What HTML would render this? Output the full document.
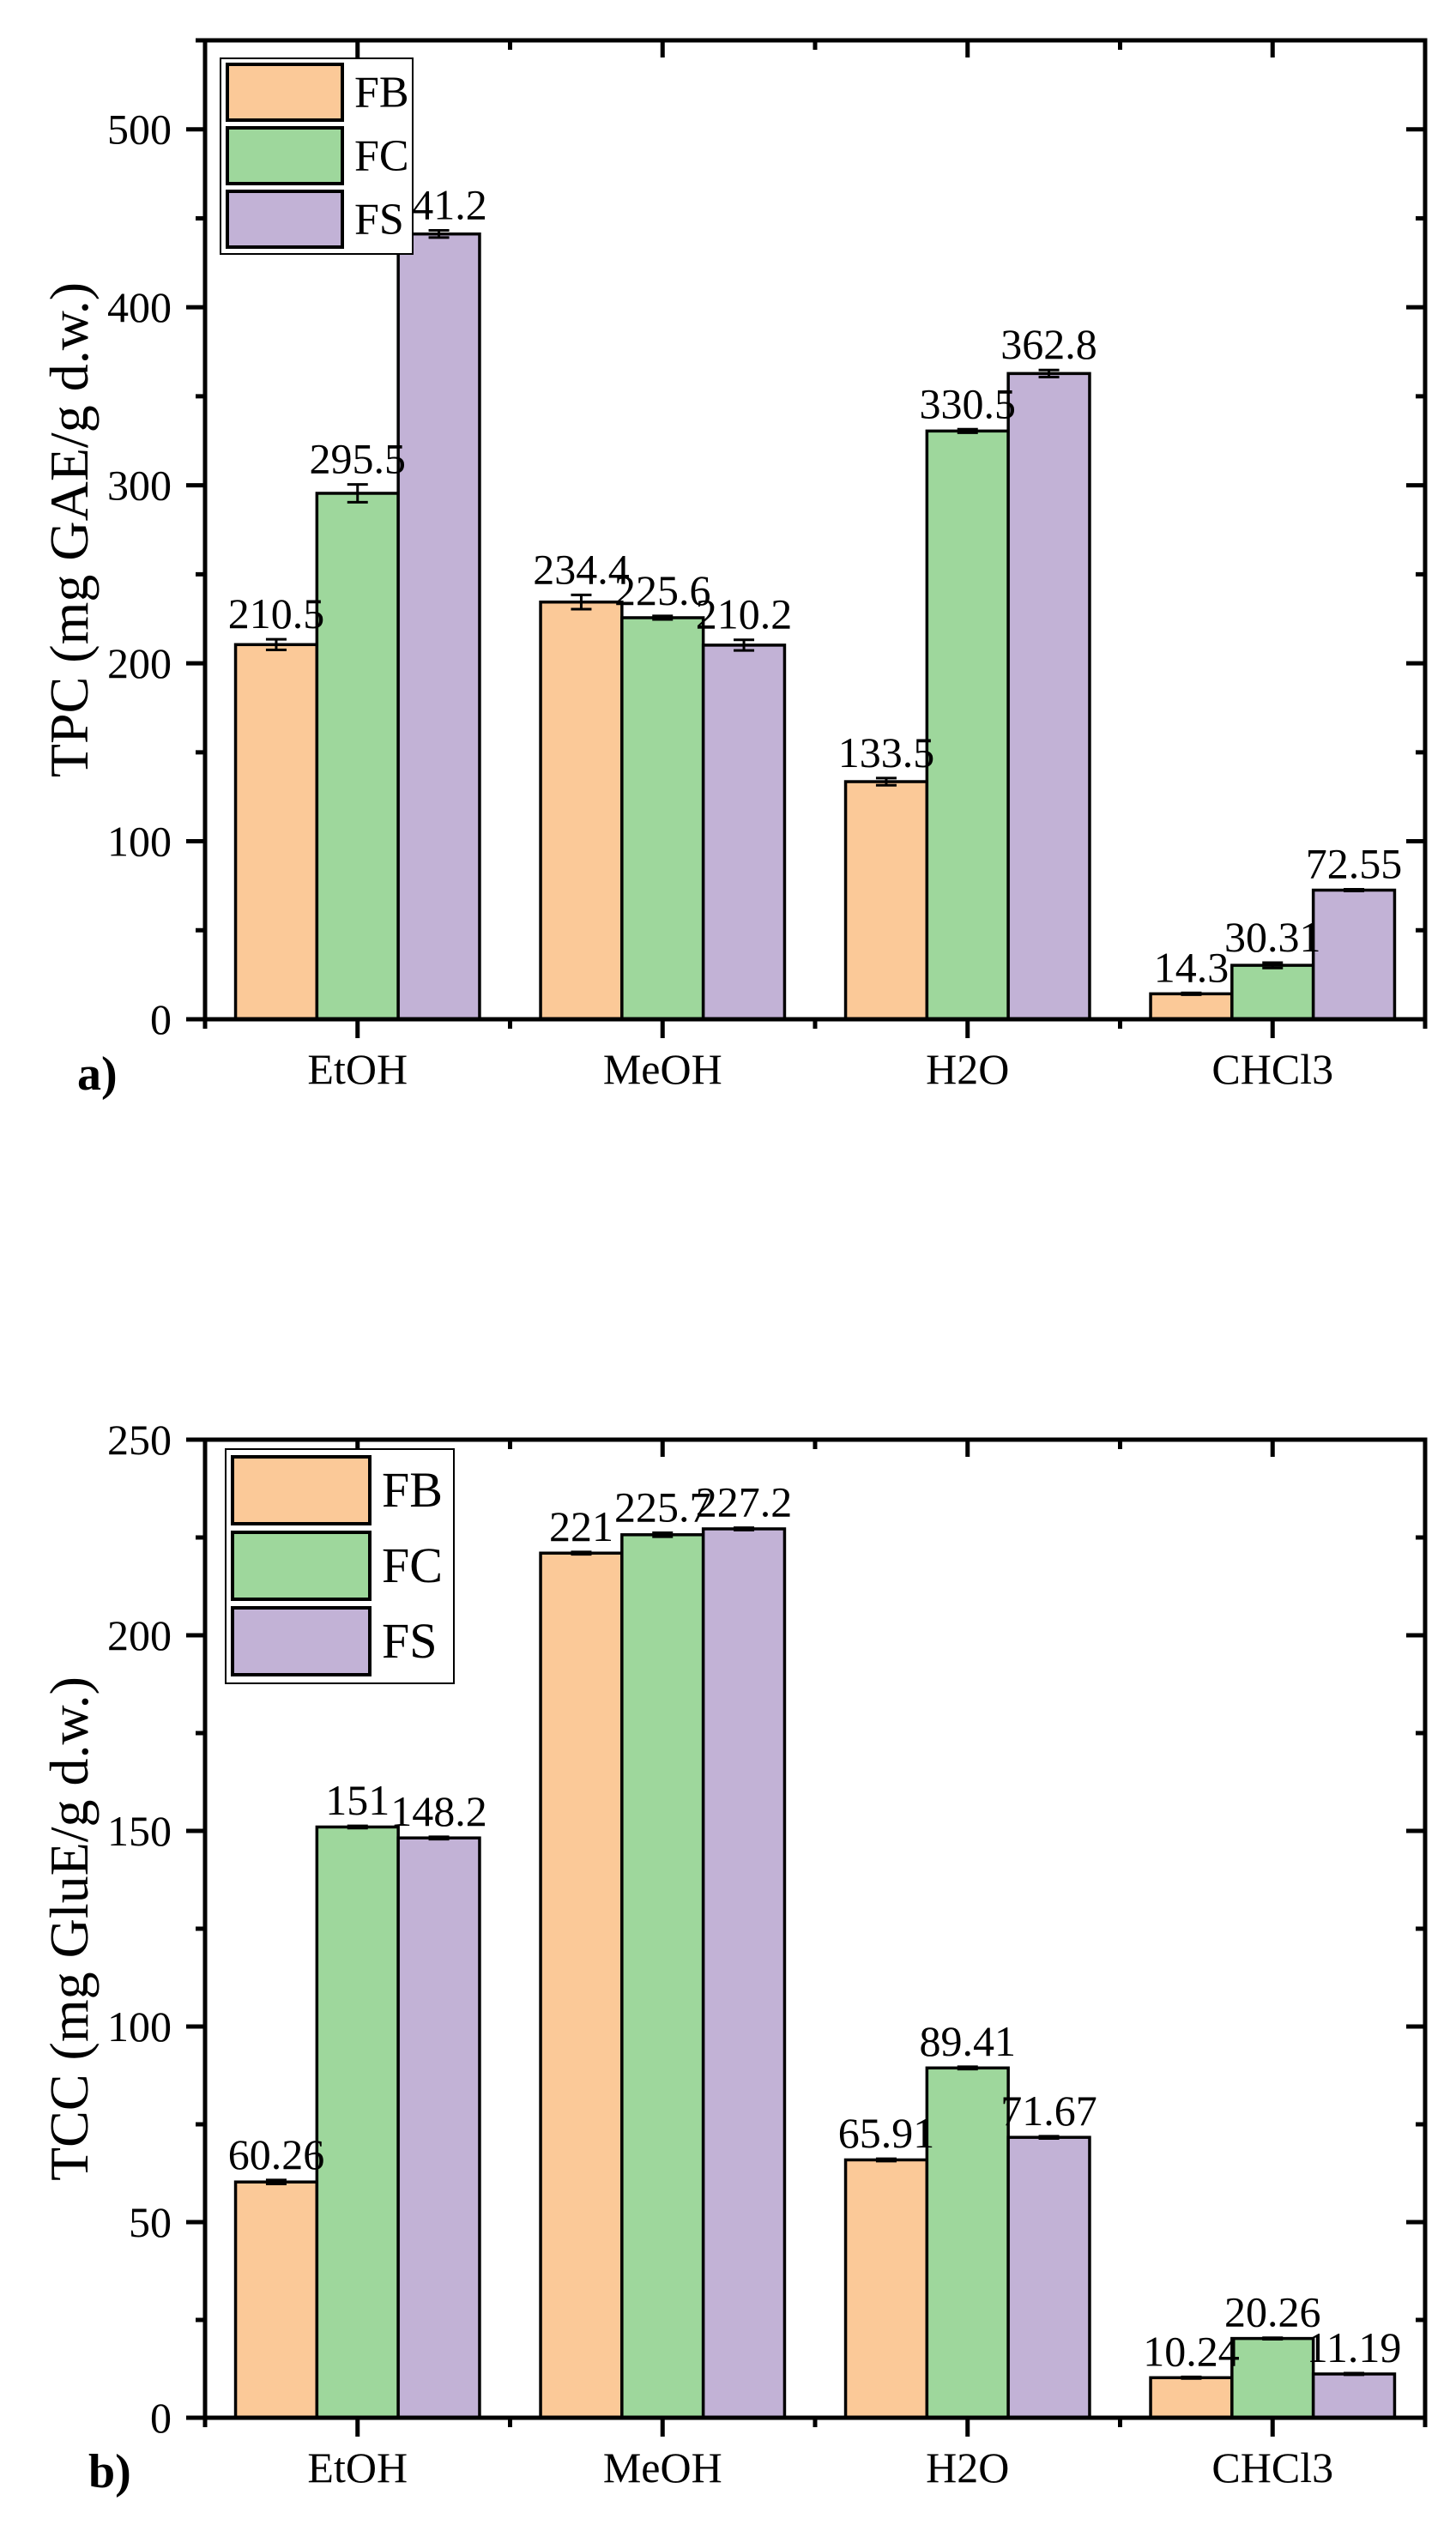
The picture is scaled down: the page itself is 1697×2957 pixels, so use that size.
<!DOCTYPE html>
<html><head><meta charset="utf-8"><style>
html,body{margin:0;padding:0;background:#fff}
svg{display:block}
text{font-family:"Liberation Serif",serif;fill:#000}
</style></head><body>
<svg id="svg" width="1697" height="2957" viewBox="0 0 1697 2957" xmlns="http://www.w3.org/2000/svg"></svg>
<script>
const categories = ["EtOH","MeOH","H2O","CHCl3"];
const seriesNames = ["FB","FC","FS"];
const colors = ["#fbc998","#9ed79c","#c2b2d6"];
const tpcFB = [210.5,234.4,133.5,14.3];
const tpcFC = [295.5,225.6,330.5,30.31];
const tpcFS = [441.2,210.2,362.8,72.55];
const tpcErrFB = [3,4,2,0.5];
const tpcErrFC = [5,1,1,1.5];
const tpcErrFS = [2,3,2,0.5];
const tpcLabels = ["210.5","234.4","133.5","14.3","295.5","225.6","330.5","30.31","441.2","210.2","362.8","72.55"];
const tpcTicks = [0,100,200,300,400,500];
const tccFB = [60.26,221,65.91,10.24];
const tccFC = [151,225.7,89.41,20.26];
const tccFS = [148.2,227.2,71.67,11.19];
const tccErrFB = [0.5,0.3,0.3,0.2];
const tccErrFC = [0.3,0.5,0.3,0.2];
const tccErrFS = [0.3,0.3,0.3,0.2];
const tccLabels = ["60.26","221","65.91","10.24","151","225.7","89.41","20.26","148.2","227.2","71.67","11.19"];
const tccTicks = [0,50,100,150,200,250];

const NS="http://www.w3.org/2000/svg";
const svg=document.getElementById('svg');
function mk(tag,attrs,parent){const e=document.createElementNS(NS,tag);for(const k in attrs)e.setAttribute(k,attrs[k]);(parent||svg).appendChild(e);return e;}

function chart(cfg){
  const g=mk('g',{});
  
  
  const L=239,R=1661,T=cfg.top,B=cfg.bottom;
  const y=v=>B-(v/cfg.max)*(B-T);
  const cw=(R-L)/categories.length;
  const xc=i=>L+cw*(i+0.5);
  const bw=cw*0.8/3;
  const series=[cfg.fb,cfg.fc,cfg.fs], errs=[cfg.efb,cfg.efc,cfg.efs];
  for(let s=0;s<3;s++){
    for(let i=0;i<categories.length;i++){
      const x=xc(i)-1.5*bw+s*bw, v=series[s][i];
      const r=mk('rect',{x:x,y:y(v),width:bw,height:B-y(v),fill:colors[s],stroke:'#000','stroke-width':3.5},g);
      
      
      const e=errs[s][i], cx=x+bw/2;
      const eb=mk('path',{d:`M${cx-12},${y(v+e)}H${cx+12}M${cx},${y(v+e)}V${y(v-e)}M${cx-12},${y(v-e)}H${cx+12}`,stroke:'#000','stroke-width':3,fill:'none'},g);
      
      
    }
  }
  for(let s=0;s<3;s++){
    for(let i=0;i<categories.length;i++){
      const x=xc(i)-1.5*bw+s*bw+bw/2, v=series[s][i]+errs[s][i];
      const t=mk('text',{x:x,y:y(v)-13,'text-anchor':'middle','font-size':50},g);
      t.textContent=cfg.labels[s*4+i];
      
      
    }
  }
  const fr=mk('rect',{x:L,y:T,width:R-L,height:B-T,fill:'none',stroke:'#000','stroke-width':5},g);
  
  
  let d='';
  const step=cfg.ticks[1]-cfg.ticks[0];
  for(let v=0;v<=cfg.max+0.001;v+=step/2){
    const major=Math.abs((v/step)-Math.round(v/step))<0.01;
    const len=major?22:11;
    d+=`M${L-len},${y(v)}H${L}M${R-len},${y(v)}H${R}`;
  }
  for(let i=0;i<categories.length;i++){ d+=`M${xc(i)},${B}V${B+22}M${xc(i)},${T}V${T+20}`; }
  for(let i=0;i<=categories.length;i++){ const x=L+cw*i; d+=`M${x},${B}V${B+11}M${x},${T}V${T+11}`; }
  const tk=mk('path',{d:d,stroke:'#000','stroke-width':5,fill:'none'},g);
  
  
  cfg.ticks.forEach(v=>{
    const t=mk('text',{x:200,y:y(v)+17,'text-anchor':'end','font-size':50},g);
    t.textContent=String(v);
    
    
  });
  categories.forEach((c,i)=>{
    const t=mk('text',{x:xc(i),y:B+75,'text-anchor':'middle','font-size':50},g);
    t.textContent=c;
    
    
  });
  const yt=mk('text',{x:0,y:0,'text-anchor':'middle','font-size':64,transform:`translate(102,${(T+B)/2}) rotate(-90)`},g);
  yt.textContent=cfg.ytitle;
  
  
  const pl=mk('text',{x:cfg.panelX,y:cfg.panelY,'font-size':56,'font-weight':'bold'},g);
  pl.textContent=cfg.panel;
  
  
  const lg=mk('g',{},g);
  
  
  const Lb=cfg.leg;
  mk('rect',{x:Lb.x,y:Lb.y,width:Lb.w,height:Lb.h,fill:'#fff',stroke:'#000','stroke-width':2},lg);
  for(let s=0;s<3;s++){
    const sy=Lb.y+Lb.pad+s*Lb.step;
    const sw=mk('rect',{x:Lb.x+8,y:sy,width:Lb.sw,height:Lb.sh,fill:colors[s],stroke:'#000','stroke-width':4},lg);
    
    
    const t=mk('text',{x:Lb.x+Lb.sw+22,y:sy+Lb.sh/2+Lb.fs*0.33,'font-size':Lb.fs},lg);
    t.textContent=seriesNames[s];
    
    
  }
}
chart({name:'tpc-chart',top:47,bottom:1188,max:550,fb:tpcFB,fc:tpcFC,fs:tpcFS,efb:tpcErrFB,efc:tpcErrFC,efs:tpcErrFS,labels:tpcLabels,ticks:tpcTicks,ytitle:'TPC (mg GAE/g d.w.)',panel:'a)',panelX:90,panelY:1270,
  leg:{x:257,y:68,w:224,h:228,pad:7,step:74,sw:134,sh:65,fs:52}});
chart({name:'tcc-chart',top:1678,bottom:2818,max:250,fb:tccFB,fc:tccFC,fs:tccFS,efb:tccErrFB,efc:tccErrFC,efs:tccErrFS,labels:tccLabels,ticks:tccTicks,ytitle:'TCC (mg GluE/g d.w.)',panel:'b)',panelX:103,panelY:2899,
  leg:{x:263,y:1689,w:266,h:273,pad:9,step:88,sw:160,sh:78,fs:58}});
</script>
</body></html>
